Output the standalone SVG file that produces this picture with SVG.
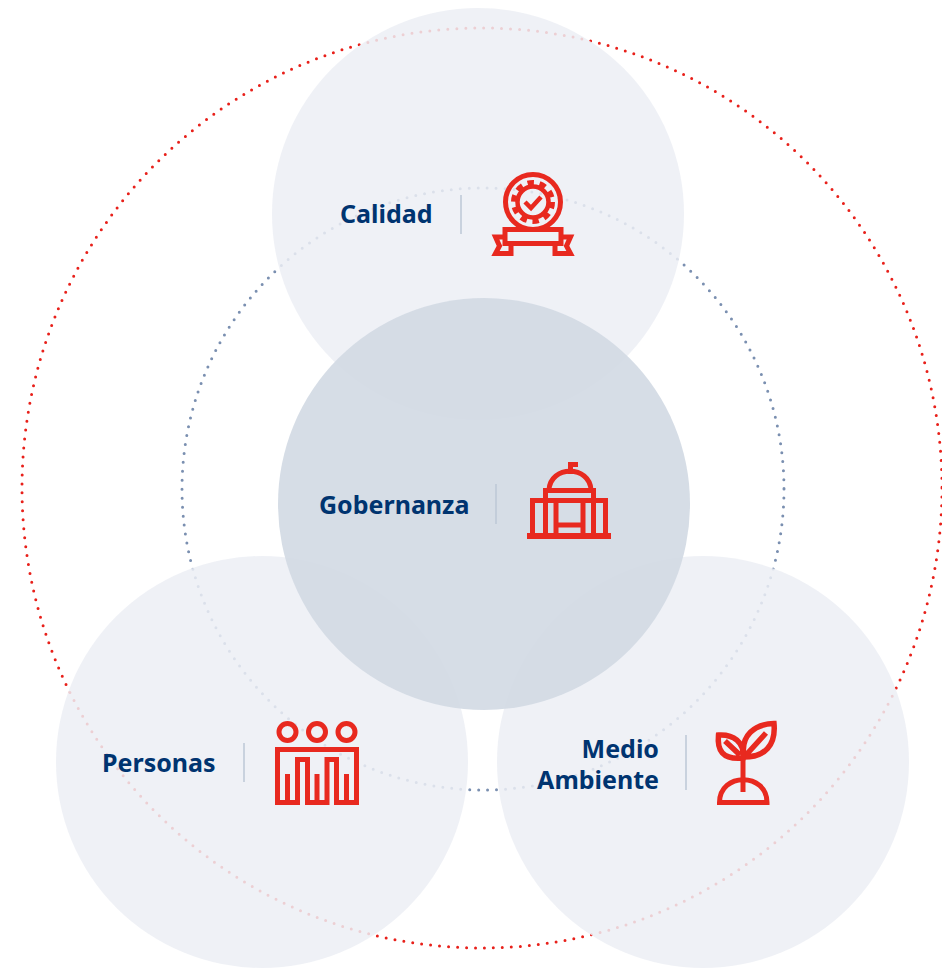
<svg xmlns="http://www.w3.org/2000/svg" width="942" height="968" viewBox="0 0 942 968">
<style>
.lbl{font-family:"Noto Sans","Open Sans",sans-serif;font-weight:700;font-size:25px;fill:#003470}
.div{stroke:#bcc7d6;stroke-width:1.5;fill:none}
.ic{fill:none;stroke:#e8291f;stroke-width:5}
.soft{fill:#eceff4;fill-opacity:.85}
.ring{fill:none;stroke-linecap:round;stroke-dasharray:0 9}
</style>
<rect width="942" height="968" fill="#fff"/>
<g id="connectors">
<circle class="ring" cx="482" cy="488" r="460" stroke="#e8201a" stroke-width="3"/>
<circle class="ring" cx="483" cy="489" r="301" stroke="#7a8fb0" stroke-width="3"/>
</g>
<circle class="soft" cx="478" cy="214" r="206"/>
<circle class="soft" cx="262" cy="762" r="206"/>
<circle class="soft" cx="703" cy="762" r="206"/>
<circle cx="484" cy="504" r="206" fill="#d1d9e3" fill-opacity=".9"/>
<g id="calidad">
<text class="lbl" x="340" y="222.500">Calidad</text>
<path class="div" d="M461 195V234"/>
<g class="ic">
<circle cx="533" cy="202" r="27.500"/>
<circle cx="533" cy="202" r="15.500" stroke-width="4.500"/>
<circle cx="533" cy="202" r="19.500" stroke-width="5" stroke-dasharray="6.500 5.750"/>
<path d="M525 202l6 6 10-11" stroke-width="4.500"/>
<rect x="505" y="229.500" width="56" height="14"/>
<path d="M505 237H495.500L499.500 246L495.500 253.500H511V243M561 237H570.500L566.500 246L570.500 253.500H555V243"/>
</g>
</g>
<g id="gobernanza">
<text class="lbl" x="319" y="513.500">Gobernanza</text>
<path class="div" d="M496 484V524"/>
<g class="ic">
<path d="M570.500 474V464.500H578"/>
<path d="M549 490C550 465 590 465 591 490"/>
<path d="M545.500 500V490.500H593.500V500"/>
<path d="M532.500 535V500.500H605.500V535M545.500 500V535M556 500V535M583 500V535M593.500 500V535M556 525H583"/>
<path d="M527 536H611" stroke-width="6"/>
</g>
</g>
<g id="personas">
<text class="lbl" x="102" y="771.500">Personas</text>
<path class="div" d="M244 743V782"/>
<g class="ic">
<circle cx="287.500" cy="732" r="8.500"/>
<circle cx="317" cy="732" r="8.500"/>
<circle cx="346.500" cy="732" r="8.500"/>
<path d="M297.500 802.500H277.500V749.500H356.500V802.500H336.500M307.500 802.500H327"/>
<path d="M287.500 802V774M317 802V774M346.500 802V774"/>
<path d="M297.500 805V759.500H307.500V805M327 805V759.500H336.500V805"/>
</g>
</g>
<g id="medio-ambiente">
<text class="lbl" x="659" y="757.500" text-anchor="end">Medio</text>
<text class="lbl" x="659" y="788.500" text-anchor="end">Ambiente</text>
<path class="div" d="M686 735V790"/>
<g class="ic">
<path d="M744 757C740 735 755 724 774 723.500C776 745 765 757 744 757ZM746 755L766 733" stroke-width="5.500"/>
<path d="M743 758C722 760 717 750 718.500 735C733 734 745 742 743 758ZM740 755L725 741" stroke-width="5.500"/>
<path d="M743 757V792"/>
<path d="M719.500 802.500C719.500 772 767 772 767 802.500Z"/>
</g>
</g>
</svg>
